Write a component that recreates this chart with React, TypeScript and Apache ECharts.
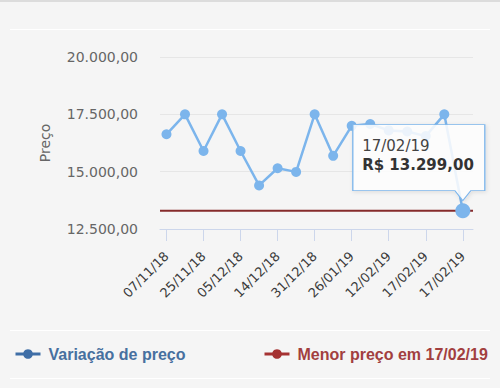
import React, { useEffect, useRef } from "react";
import * as echarts from "echarts";

// Data
const tickLabels = ["07/11/18", "25/11/18", "05/12/18", "14/12/18", "31/12/18", "26/01/19", "12/02/19", "17/02/19", "17/02/19"];
const prices = [16630, 17499, 15900, 17499, 15900, 14400, 15150, 14990, 17499, 15690, 17000, 17080, 16800, 16750, 16550, 17499, 13299];
const lowestPrice = 13299;
const lowestDate = "17/02/19";
const yTicks = [12500, 15000, 17500, 20000];
const seriesNames = ["Variação de preço", "Menor preço em " + lowestDate];

const fmt = (v: number): string => {
  const fixed = v.toFixed(2);
  const [intPart, dec] = fixed.split(".");
  const withDots = intPart.replace(/\B(?=(\d{3})+(?!\d))/g, ".");
  return withDots + "," + dec;
};

const X_MIN = -0.35;
const X_MAX = prices.length - 1 + 0.55;

export default function App() {
  const ref = useRef<HTMLDivElement>(null);
  useEffect(() => {
    if (!ref.current) return;
    const chart = echarts.init(ref.current, undefined, { renderer: "svg" });
    const tickIdx = tickLabels.map((_, i) => i * 2);
    const lastIdx = prices.length - 1;
    chart.setOption({
      animation: false,
      backgroundColor: "#f5f5f5",
      textStyle: { fontFamily: "DejaVu Sans" },
      grid: { left: 160, right: 27, top: 57, bottom: 159, containLabel: false },
      graphic: [
        { type: "rect", shape: { x: 0, y: 0, width: 500, height: 2 }, style: { fill: "#dcdcdc" }, silent: true },
        { type: "line", shape: { x1: 10, y1: 29.5, x2: 490, y2: 29.5 }, style: { stroke: "#ffffff", lineWidth: 1 }, silent: true },
        { type: "line", shape: { x1: 10, y1: 330.5, x2: 490, y2: 330.5 }, style: { stroke: "#ffffff", lineWidth: 1 }, silent: true },
        { type: "line", shape: { x1: 10, y1: 378.5, x2: 490, y2: 378.5 }, style: { stroke: "#ffffff", lineWidth: 1 }, silent: true },
      ],
      legend: [
        {
          left: 14,
          top: 346,
          padding: 0,
          itemWidth: 25,
          itemHeight: 12,
          textStyle: { fontFamily: "Liberation Sans", fontWeight: "bold", fontSize: 16, color: "#47709f", padding: [0, 0, 0, 3] },
          data: [{ name: seriesNames[0], itemStyle: { color: "#3f6ea6" }, lineStyle: { color: "#3f6ea6", width: 3 } }],
        },
        {
          left: 263,
          top: 346,
          padding: 0,
          itemWidth: 25,
          itemHeight: 12,
          textStyle: { fontFamily: "Liberation Sans", fontWeight: "bold", fontSize: 16, color: "#a23f3f", padding: [0, 0, 0, 3] },
          data: [{ name: seriesNames[1], itemStyle: { color: "#a53232" }, lineStyle: { color: "#a53232", width: 3 } }],
        },
      ],
      xAxis: {
        type: "value",
        min: X_MIN,
        max: X_MAX,
        splitLine: { show: false },
        axisLine: { show: true, lineStyle: { color: "#ccd6eb", width: 1 } },
        axisTick: { show: true, length: 12, lineStyle: { color: "#ccd6eb" }, customValues: tickIdx },
        axisLabel: {
          customValues: tickIdx,
          rotate: 45,
          margin: 25,
          fontSize: 13,
          color: "#3a3a3a",
          formatter: (v: number) => tickLabels[Math.round(v / 2)] ?? "",
        },
      },
      yAxis: {
        type: "value",
        min: 12500,
        max: 20000,
        interval: 2500,
        name: "Preço",
        nameLocation: "middle",
        nameGap: 108,
        nameTextStyle: { fontSize: 14, color: "#666" },
        axisLine: { show: false },
        axisTick: { show: false },
        splitLine: { lineStyle: { color: "#e6e6e6", width: 1 } },
        axisLabel: {
          margin: 22,
          fontSize: 14,
          color: "#666",
          formatter: (v: number) => (yTicks.includes(v) ? fmt(v) : ""),
        },
      },
      series: [
        {
          name: seriesNames[1],
          type: "line",
          data: [[X_MIN, lowestPrice], [X_MAX, lowestPrice]],
          symbol: "circle",
          showSymbol: false,
          lineStyle: { color: "#862b2b", width: 2 },
          itemStyle: { color: "#862b2b" },
          silent: true,
          z: 2,
        },
        {
          name: seriesNames[0],
          type: "line",
          data: prices.map((p, i) =>
            i === lastIdx ? { value: [i, p], symbolSize: 15 } : [i, p]
          ),
          symbol: "circle",
          symbolSize: 10,
          lineStyle: { color: "#7cb5ec", width: 2.5 },
          itemStyle: { color: "#7cb5ec" },
          silent: true,
          z: 3,
          markPoint: {
            silent: true,
            symbol: "path://M0,0H132V66H118L110,76L102,66H0Z",
            symbolSize: [132, 76],
            symbolOffset: [-44, -48],
            symbolKeepAspect: false,
            itemStyle: {
              color: "rgba(255,255,255,0.85)",
              borderColor: "#7cb5ec",
              borderWidth: 1,
              shadowColor: "rgba(0,0,0,0.12)",
              shadowBlur: 4,
              shadowOffsetX: 1,
              shadowOffsetY: 1,
            },
            label: {
              show: true,
              position: [10, 12],
              align: "left",
              verticalAlign: "top",
              formatter: () => `{a|${lowestDate}}\n{b|R$ ${fmt(prices[lastIdx])}}`,
              rich: {
                a: { fontSize: 15, lineHeight: 19, color: "#444", fontFamily: "DejaVu Sans" },
                b: { fontSize: 15, lineHeight: 19, color: "#333", fontWeight: "bold", fontFamily: "DejaVu Sans" },
              },
            },
            data: [{ coord: [lastIdx, prices[lastIdx]] }],
          },
        },
      ],
    });
    return () => chart.dispose();
  }, []);
  return <div ref={ref} style={{ position: "fixed", left: 0, top: 0, width: 500, height: 388 }} />;
}
